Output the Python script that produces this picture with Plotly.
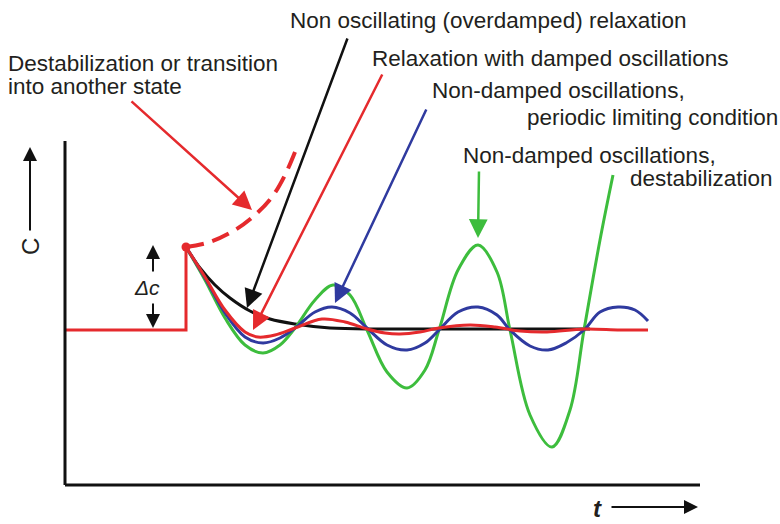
import plotly.graph_objects as go

# Time t measured from the perturbation, concentration deviation c from the initial steady state
t_step = [-121, 0, 0]
c_step = [0, 0, 83]

# Non oscillating (overdamped) relaxation
t_over = [0, 14, 29, 44, 64, 84, 109, 144, 194, 264, 404]
c_over = [83, 62, 45, 32, 19, 11, 6, 2, 1, 1, 1]

# Relaxation with damped oscillations
t_damp = [0, 19, 39, 59, 72, 89, 109, 136, 159, 181, 199, 214, 234, 253, 284, 309, 334, 361, 398, 434, 462]
c_damp = [83, 53, 20, -2, -7, -5, 2, 11, 8, 1, -3, -4, -2, 2, 5, 3, -1, -2, 1, 0, 0]

# Non-damped oscillations, periodic limiting condition
t_limit = [0, 19, 39, 59, 77, 94, 109, 129, 146, 164, 181, 201, 221, 239, 253, 272, 292, 311, 324,
           344, 362, 380, 398, 414, 432, 449, 462]
c_limit = [83, 52, 17, -7, -13, -8, 2, 18, 23, 17, 2, -15, -20, -13, 0, 18, 23, 15, 0,
           -16, -20, -13, 0, 18, 23, 20, 9]

# Non-damped (growing) oscillations, destabilization
t_grow = [0, 19, 39, 59, 77, 94, 109, 129, 147, 164, 181, 201, 221, 239, 253, 272, 292, 311, 324,
          344, 366, 384, 398, 414, 427]
c_grow = [83, 50, 12, -15, -23, -15, 2, 30, 45, 35, 0, -42, -58, -40, 0, 60, 85, 58, 0,
          -85, -117, -80, 0, 90, 155]

# Destabilization or transition into another state
t_trans = [0, 24, 49, 69, 86, 99, 111]
c_trans = [83, 88, 100, 115, 133, 155, 183]

RED = "#e52a2d"
BLUE = "#2f3a9f"
GREEN = "#3dbd3d"
BLACK = "#111111"
TEXT = "#231f20"
FONT = "Liberation Sans, Arial, sans-serif"

fig = go.Figure()

fig.add_trace(go.Scatter(x=t_over, y=c_over, mode="lines", line=dict(color=BLACK, width=3, shape="spline")))
fig.add_trace(go.Scatter(x=t_grow, y=c_grow, mode="lines", line=dict(color=GREEN, width=3, shape="spline")))
fig.add_trace(go.Scatter(x=t_limit, y=c_limit, mode="lines", line=dict(color=BLUE, width=3, shape="spline")))
fig.add_trace(go.Scatter(x=t_damp, y=c_damp, mode="lines", line=dict(color=RED, width=3, shape="spline")))
fig.add_trace(go.Scatter(x=t_trans, y=c_trans, mode="lines",
                         line=dict(color=RED, width=4, shape="spline", dash="18px,9px")))
fig.add_trace(go.Scatter(x=t_step, y=c_step, mode="lines", line=dict(color=RED, width=3)))
fig.add_trace(go.Scatter(x=[t_step[-1]], y=[c_step[-1]], mode="markers",
                         marker=dict(color=RED, size=9)))

# Axes drawn as plain lines
T0, T1, C0, C1 = -121, 514, -155, 189
fig.add_shape(type="line", x0=T0, y0=C0, x1=T0, y1=C1, line=dict(color=BLACK, width=3))
fig.add_shape(type="line", x0=T0, y0=C0, x1=T1, y1=C0, line=dict(color=BLACK, width=3))


def arrow(tip, tail, color, width=2.5, size=1.5):
    fig.add_annotation(x=tip[0], y=tip[1], ax=tail[0], ay=tail[1], xref="x", yref="y",
                       axref="x", ayref="y", showarrow=True, arrowhead=2, arrowsize=size,
                       arrowwidth=width, arrowcolor=color, text="")


def label(x, y, text, size=22.5, **kw):
    fig.add_annotation(x=x, y=y, xref="x", yref="y", text=text, showarrow=False,
                       xanchor="left", yanchor="middle",
                       font=dict(family=FONT, size=size, color=TEXT), **kw)


# Pointer arrows to the curves
arrow((61, 22), (162, 293), BLACK)
arrow((67, 0), (197, 257), RED)
arrow((149, 27), (241, 222), BLUE)
arrow((292, 92), (293, 160), GREEN)
arrow((66, 120), (-56, 230), RED)

# Axis direction arrows and the step size
arrow((-156, 183), (-156, 98), BLACK, width=2, size=1.4)
arrow((512, -177), (424, -177), BLACK, width=2, size=1.4)
arrow((-33, 85), (-33, 57), BLACK, width=2, size=1.4)
arrow((-33, 2), (-33, 28), BLACK, width=2, size=1.4)

label(102, 310, "Non oscillating (overdamped) relaxation")
label(184, 272, "Relaxation with damped oscillations")
label(-180, 267, "Destabilization or transition")
label(-180, 244, "into another state")
label(244, 240, "Non-damped oscillations,")
label(339, 213, "periodic limiting condition")
label(275, 175, "Non-damped oscillations,")
label(442, 152, "destabilization")

fig.add_annotation(x=-156, y=83, xref="x", yref="y", text="C", showarrow=False,
                   textangle=-90, xanchor="center", yanchor="middle",
                   font=dict(family=FONT, size=24, color=TEXT))
fig.add_annotation(x=-39, y=43, xref="x", yref="y", text="<i>Δc</i>", showarrow=False,
                   xanchor="center", yanchor="middle", font=dict(family=FONT, size=21, color=TEXT))
fig.add_annotation(x=411, y=-178, xref="x", yref="y", text="<b><i>t</i></b>", showarrow=False,
                   xanchor="center", yanchor="middle", font=dict(family=FONT, size=24, color=TEXT))

fig.update_layout(
    width=780, height=524, margin=dict(l=0, r=0, t=0, b=0),
    paper_bgcolor="white", plot_bgcolor="white", showlegend=False,
    xaxis=dict(visible=False, range=[-186, 594], fixedrange=True),
    yaxis=dict(visible=False, range=[-194, 330], fixedrange=True),
)

fig.write_html("out.html")
